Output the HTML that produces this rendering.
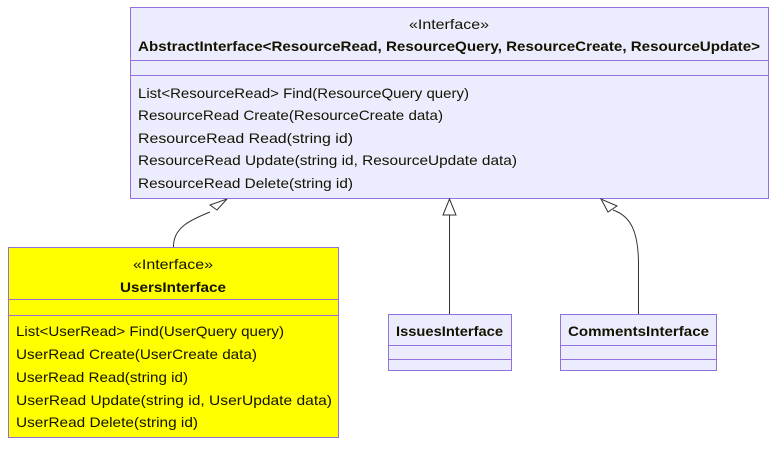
<!DOCTYPE html>
<html><head><meta charset="utf-8"><style>
html,body{margin:0;padding:0;background:#fff;width:784px;height:452px;overflow:hidden}
text{font-family:"Liberation Sans","DejaVu Sans",sans-serif;font-size:14px;fill:#131300}
.b{font-weight:bold}
</style></head><body>
<svg width="784" height="452" viewBox="0 0 784 452" xmlns="http://www.w3.org/2000/svg">
<g stroke="#9370db" stroke-width="1">
<rect x="130.5" y="7.5" width="638" height="191" fill="#ececff"/>
<line x1="130" y1="60.5" x2="768" y2="60.5"/>
<line x1="130" y1="75.5" x2="768" y2="75.5"/>
<rect x="8.5" y="247.5" width="330" height="190" fill="#ffff00"/>
<line x1="8" y1="299.5" x2="338" y2="299.5"/>
<line x1="8" y1="315.5" x2="338" y2="315.5"/>
<rect x="388.5" y="314.5" width="123" height="56" fill="#ececff"/>
<line x1="388" y1="345.5" x2="511" y2="345.5"/>
<line x1="388" y1="359.5" x2="511" y2="359.5"/>
<rect x="560.5" y="314.5" width="156" height="56" fill="#ececff"/>
<line x1="560" y1="345.5" x2="716" y2="345.5"/>
<line x1="560" y1="359.5" x2="716" y2="359.5"/>
</g>
<g stroke="#333" fill="none" stroke-width="1">
<path d="M173.5 247 C173 228 190 220 210 212"/>
<line x1="449.5" y1="314" x2="449.5" y2="214"/>
<path d="M638.5 314 L638.5 262 C638 230 630 216 613 210"/>
</g>
<g stroke="#333" fill="#fff" stroke-width="1">
<polygon points="227,199 210,205 217,210"/>
<polygon points="449.5,199 443,215 456,215"/>
<polygon points="601,199 608,212 617,206"/>
</g>
<text x="449" y="29" text-anchor="middle" textLength="80" lengthAdjust="spacingAndGlyphs">«Interface»</text>
<text class="b" x="138" y="51" textLength="622" lengthAdjust="spacingAndGlyphs">AbstractInterface&lt;ResourceRead, ResourceQuery, ResourceCreate, ResourceUpdate&gt;</text>
<text x="138" y="98" textLength="331" lengthAdjust="spacingAndGlyphs">List&lt;ResourceRead&gt; Find(ResourceQuery query)</text>
<text x="138" y="120" textLength="305" lengthAdjust="spacingAndGlyphs">ResourceRead Create(ResourceCreate data)</text>
<text x="138" y="143" textLength="215" lengthAdjust="spacingAndGlyphs">ResourceRead Read(string id)</text>
<text x="138" y="165" textLength="379" lengthAdjust="spacingAndGlyphs">ResourceRead Update(string id, ResourceUpdate data)</text>
<text x="138" y="188" textLength="215" lengthAdjust="spacingAndGlyphs">ResourceRead Delete(string id)</text>
<text x="173" y="269" text-anchor="middle" textLength="80" lengthAdjust="spacingAndGlyphs">«Interface»</text>
<text class="b" x="173" y="292" text-anchor="middle" textLength="106" lengthAdjust="spacingAndGlyphs">UsersInterface</text>
<text x="16" y="336" textLength="268" lengthAdjust="spacingAndGlyphs">List&lt;UserRead&gt; Find(UserQuery query)</text>
<text x="16" y="359" textLength="241" lengthAdjust="spacingAndGlyphs">UserRead Create(UserCreate data)</text>
<text x="16" y="382" textLength="172" lengthAdjust="spacingAndGlyphs">UserRead Read(string id)</text>
<text x="16" y="405" textLength="316" lengthAdjust="spacingAndGlyphs">UserRead Update(string id, UserUpdate data)</text>
<text x="16" y="427" textLength="182" lengthAdjust="spacingAndGlyphs">UserRead Delete(string id)</text>
<text class="b" x="449.5" y="336" text-anchor="middle" textLength="107" lengthAdjust="spacingAndGlyphs">IssuesInterface</text>
<text class="b" x="638.5" y="336" text-anchor="middle" textLength="141" lengthAdjust="spacingAndGlyphs">CommentsInterface</text>
</svg>
</body></html>
